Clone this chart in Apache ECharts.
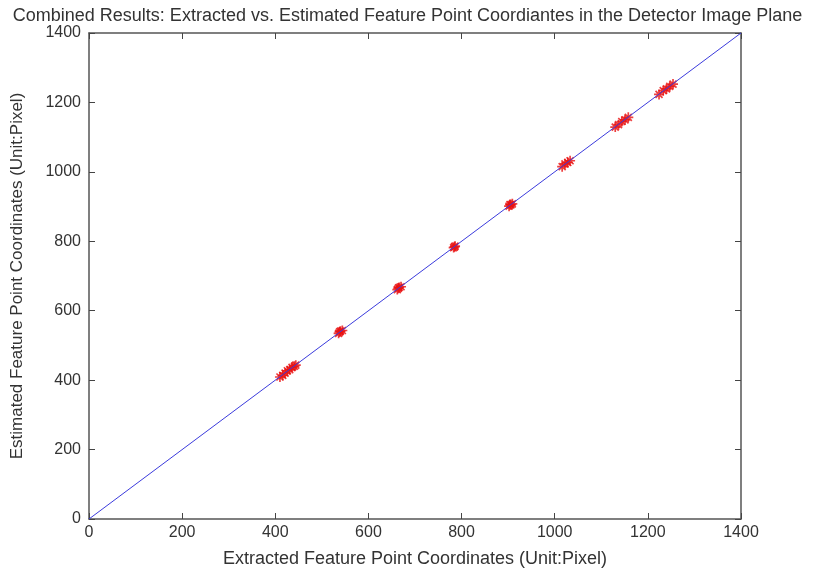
<!DOCTYPE html>
<html>
<head>
    <meta charset="utf-8">
    <title>Feature Point Coordinates</title>
    <script src="https://cdn.jsdelivr.net/npm/echarts@6/dist/echarts.min.js"></script>
</head>
<body style="margin:0;background:#fff">
    <div id="main" style="width:815px;height:573px;"></div>
    <script>
        // extracted (x) vs estimated (y) feature point coordinates
        var extracted = [410, 416, 421, 426, 431, 436, 441, 444, 536, 540, 544, 538, 662, 666, 670, 664, 783, 786, 785, 902, 906, 909, 904, 1016, 1022, 1028, 1033, 1130, 1137, 1144, 1151, 1158, 1224, 1233, 1240, 1247, 1254];
        var estimated = [409, 414, 420, 427, 430, 437, 440, 443, 535, 541, 543, 539, 661, 667, 669, 665, 782, 786, 784, 901, 905, 908, 906, 1015, 1023, 1027, 1032, 1129, 1136, 1145, 1150, 1157, 1223, 1234, 1239, 1246, 1253];
        var lineX = [0, 1400];
        var lineY = [0, 1400];

        var points = extracted.map(function (x, i) { return [x, estimated[i]]; });
        var diag = lineX.map(function (x, i) { return [x, lineY[i]]; });

        // asterisk marker, stroked only
        var star = 'path://M0,5 L10,5 M5,0 L5,10 M1.5,1.5 L8.5,8.5 M8.5,1.5 L1.5,8.5';

        var axisCommon = {
            type: 'value', min: 0, max: 1400, interval: 200,
            axisLine: { show: true, onZero: false, lineStyle: { color: '#555', width: 1.5 } },
            axisTick: { show: true, inside: true, length: 6, lineStyle: { color: '#444' } },
            splitLine: { show: false }
        };
        var font = 'Liberation Sans, Arial, sans-serif';
        var plain = function (v) { return String(v); };

        var myChart = echarts.init(document.getElementById('main'));
        myChart.setOption({
            backgroundColor: '#fff',
            animation: false,
            title: {
                text: 'Combined Results: Extracted vs. Estimated Feature Point Coordiantes in the Detector Image Plane',
                left: 'center', top: 2,
                textStyle: { fontFamily: font, fontSize: 18, fontWeight: 'normal', color: '#333' }
            },
            grid: { left: 89, right: 74, top: 33, bottom: 54 },
            xAxis: [
                Object.assign({}, axisCommon, {
                    position: 'bottom',
                    name: 'Extracted Feature Point Coordinates (Unit:Pixel)',
                    nameLocation: 'middle', nameGap: 31,
                    nameTextStyle: { fontFamily: font, fontSize: 18, color: '#333' },
                    axisLabel: { fontFamily: font, fontSize: 16, color: '#333', margin: 6, formatter: plain }
                }),
                Object.assign({}, axisCommon, { position: 'top', axisLabel: { show: false } })
            ],
            yAxis: [
                Object.assign({}, axisCommon, {
                    position: 'left',
                    name: 'Estimated Feature Point Coordinates (Unit:Pixel)',
                    nameLocation: 'middle', nameGap: 63,
                    nameTextStyle: { fontFamily: font, fontSize: 17, color: '#333' },
                    axisLabel: { fontFamily: font, fontSize: 16, color: '#333', margin: 8, formatter: plain }
                }),
                Object.assign({}, axisCommon, { position: 'right', axisLabel: { show: false } })
            ],
            series: [
                {
                    type: 'line', data: diag, symbol: 'none',
                    lineStyle: { color: '#3b3bdc', width: 1 }
                },
                {
                    type: 'scatter', data: points, symbol: star, symbolSize: 10,
                    itemStyle: { color: 'rgba(0,0,0,0)', borderColor: '#e81010', borderWidth: 1.7 }
                }
            ]
        });
    </script>
</body>
</html>
